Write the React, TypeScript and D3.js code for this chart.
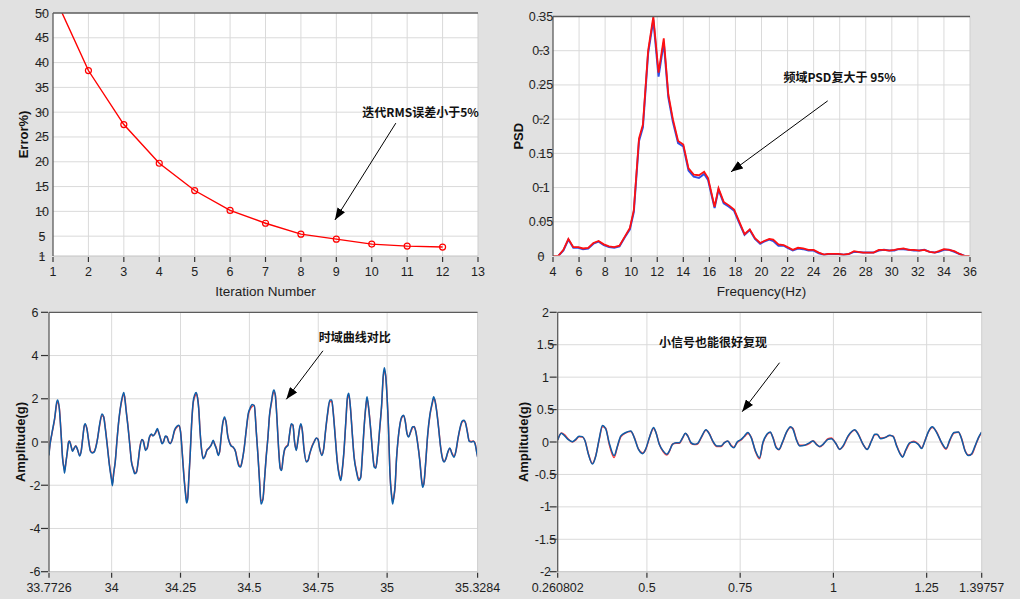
import * as d3 from 'd3';
import type { ReactNode } from 'react';

// ---- iteration error (top left)
const iterations = [1, 2, 3, 4, 5, 6, 7, 8, 9, 10, 11, 12];
const rmsError = [54, 38.4, 27.5, 19.7, 14.2, 10.2, 7.6, 5.4, 4.4, 3.4, 3.0, 2.8];
const iterTicks = [1, 2, 3, 4, 5, 6, 7, 8, 9, 10, 11, 12, 13];
const errorTicks = [50, 45, 40, 35, 30, 25, 20, 15, 10, 5, 1];

// ---- PSD (top right)
const freqHz = [
  4.0, 4.4, 4.8, 5.18, 5.56, 5.95, 6.3, 6.7, 7.1, 7.5,
  7.9, 8.3, 8.7, 9.1, 9.5, 9.9, 10.2, 10.6, 10.9, 11.3,
  11.7, 12.1, 12.5, 12.85, 13.2, 13.6, 14.0, 14.4, 14.8, 15.2,
  15.6, 15.9, 16.4, 16.7, 17.1, 17.5, 17.9, 18.3, 18.7, 19.1,
  19.5, 19.9, 20.2, 20.6, 20.9, 21.3, 21.7, 22.0, 22.4, 22.8,
  23.2, 23.6, 24.0, 24.4, 24.8, 25.1, 25.5, 25.9, 26.3, 26.7,
  27.1, 27.4, 27.8, 28.2, 28.6, 29.0, 29.4, 29.8, 30.2, 30.5,
  30.9, 31.3, 31.7, 32.1, 32.5, 32.9, 33.3, 33.6, 34.0, 34.4,
  34.8, 35.2, 35.6, 36.0,
];
const psdRed = [
  0, 0, 0.009, 0.025, 0.013, 0.013, 0.011, 0.012, 0.019, 0.022,
  0.017, 0.014, 0.013, 0.015, 0.028, 0.041, 0.067, 0.172, 0.192, 0.30,
  0.35, 0.268, 0.318, 0.236, 0.20, 0.168, 0.163, 0.128, 0.119, 0.118,
  0.123, 0.114, 0.072, 0.099, 0.079, 0.074, 0.068, 0.05, 0.032, 0.039,
  0.026, 0.019, 0.022, 0.025, 0.024, 0.017, 0.016, 0.013, 0.009, 0.012,
  0.011, 0.009, 0.009, 0.005, 0.002, 0.003, 0.003, 0.003, 0.002, 0.003,
  0.007, 0.006, 0.005, 0.005, 0.005, 0.009, 0.009, 0.008, 0.009, 0.010,
  0.011, 0.009, 0.009, 0.008, 0.009, 0.006, 0.005, 0.007, 0.010, 0.009,
  0.007, 0.003, 0, 0,
];
const psdBlue = [
  0, 0, 0.008, 0.024, 0.012, 0.012, 0.010, 0.011, 0.018, 0.021,
  0.016, 0.013, 0.012, 0.014, 0.027, 0.039, 0.064, 0.168, 0.188, 0.296,
  0.345, 0.262, 0.312, 0.232, 0.196, 0.165, 0.160, 0.125, 0.116, 0.114,
  0.120, 0.111, 0.070, 0.097, 0.077, 0.072, 0.066, 0.048, 0.031, 0.038,
  0.025, 0.018, 0.021, 0.024, 0.022, 0.015, 0.015, 0.012, 0.008, 0.011,
  0.010, 0.008, 0.008, 0.004, 0.002, 0.003, 0.003, 0.003, 0.002, 0.003,
  0.006, 0.006, 0.005, 0.005, 0.005, 0.008, 0.009, 0.008, 0.008, 0.010,
  0.010, 0.009, 0.008, 0.008, 0.009, 0.006, 0.005, 0.006, 0.009, 0.009,
  0.006, 0.003, 0, 0,
];
const freqTicks = [4, 6, 8, 10, 12, 14, 16, 18, 20, 22, 24, 26, 28, 30, 32, 34, 36];
const psdTicks = [0.35, 0.3, 0.25, 0.2, 0.15, 0.1, 0.05, 0];

// ---- time history comparison (bottom left)
const timeA = [
  33.7726, 33.774, 33.783, 33.793, 33.801, 33.804, 33.810, 33.816, 33.822, 33.827,
  33.829, 33.834, 33.839, 33.844, 33.847, 33.852, 33.858, 33.864, 33.870, 33.876,
  33.884, 33.890, 33.895, 33.901, 33.904, 33.910, 33.917, 33.923, 33.929, 33.936,
  33.943, 33.949, 33.956, 33.965, 33.971, 33.977, 33.984, 33.992, 33.999, 34.003,
  34.007, 34.013, 34.020, 34.026, 34.035, 34.044, 34.047, 34.053, 34.060, 34.066,
  34.072, 34.078, 34.084, 34.090, 34.096, 34.102, 34.110, 34.115, 34.123, 34.129,
  34.137, 34.144, 34.150, 34.159, 34.166, 34.171, 34.177, 34.183, 34.189, 34.195,
  34.201, 34.207, 34.213, 34.220, 34.228, 34.238, 34.244, 34.250, 34.256, 34.262,
  34.268, 34.272, 34.276, 34.280, 34.285, 34.290, 34.296, 34.302, 34.307, 34.312,
  34.316, 34.321, 34.326, 34.332, 34.338, 34.346, 34.353, 34.361, 34.369, 34.373,
  34.380, 34.387, 34.392, 34.398, 34.404, 34.410, 34.415, 34.421, 34.427, 34.434,
  34.441, 34.450, 34.456, 34.462, 34.468, 34.474, 34.481, 34.489, 34.496, 34.502,
  34.510, 34.518, 34.525, 34.531, 34.537, 34.542, 34.549, 34.555, 34.561, 34.567,
  34.573, 34.580, 34.586, 34.589, 34.594, 34.600, 34.606, 34.612, 34.617, 34.622,
  34.628, 34.634, 34.640, 34.646, 34.652, 34.658, 34.664, 34.670, 34.677, 34.683,
  34.687, 34.692, 34.698, 34.707, 34.713, 34.719, 34.727, 34.735, 34.743, 34.749,
  34.755, 34.763, 34.770, 34.776, 34.783, 34.792, 34.799, 34.804, 34.812, 34.819,
  34.826, 34.832, 34.836, 34.843, 34.850, 34.856, 34.861, 34.867, 34.873, 34.880,
  34.889, 34.897, 34.904, 34.910, 34.916, 34.923, 34.927, 34.933, 34.940, 34.947,
  34.953, 34.959, 34.965, 34.973, 34.980, 34.986, 34.990, 34.995, 35.000, 35.005,
  35.010, 35.016, 35.020, 35.024, 35.029, 35.034, 35.040, 35.046, 35.053, 35.060,
  35.066, 35.072, 35.078, 35.085, 35.092, 35.098, 35.104, 35.110, 35.119, 35.125,
  35.129, 35.133, 35.140, 35.147, 35.155, 35.163, 35.169, 35.173, 35.180, 35.187,
  35.194, 35.201, 35.207, 35.213, 35.220, 35.228, 35.235, 35.243, 35.250, 35.257,
  35.264, 35.272, 35.279, 35.285, 35.291, 35.298, 35.306, 35.313, 35.319, 35.325,
  35.3284,
];
const ampBlueA = [
  -0.62, -0.39, 0.39, 1.09, 1.86, 1.94, 1.55, 0.47, -0.78, -1.24,
  -1.44, -0.93, -0.47, 0, 0.03, -0.16, -0.43, -0.28, -0.19, -0.34,
  -0.65, -0.39, 0.16, 0.78, 0.85, 0.62, 0, -0.43, -0.51, -0.47,
  -0.23, 0.16, 0.78, 1.29, 1.16, 0.62, -0.16, -1.09, -1.71, -2.02,
  -1.47, -0.93, 0.16, 1.01, 1.86, 2.29, 2.09, 1.40, 0.62, -0.16,
  -0.93, -1.24, -1.47, -1.40, -0.93, -0.31, 0.12, 0.03, -0.39, -0.28,
  0.23, 0.37, 0.28, 0.43, 0.62, 0.43, 0.16, -0.08, 0.03, 0.28,
  0.23, 0, -0.08, 0.12, 0.54, 0.74, 0.78, 0.47, -0.47, -1.55,
  -2.40, -2.82, -2.64, -1.71, -0.62, 0.78, 1.86, 2.20, 2.29, 2.02,
  1.55, 0.47, -0.31, -0.78, -0.67, -0.39, -0.28, -0.16, 0.08, -0.08,
  -0.31, -0.62, -0.43, 0.31, 0.93, 1.16, 0.93, 0.31, 0, -0.19,
  -0.23, -0.47, -0.85, -1.12, -1.16, -0.85, -0.31, 0.62, 1.32, 1.55,
  1.74, 1.67, 0.47, -0.62, -1.86, -2.87, -2.64, -1.71, -0.70, 0.16,
  1.24, 1.86, 2.33, 2.40, 2.17, 1.09, -0.31, -1.24, -1.32, -0.78,
  -0.34, -0.23, -0.16, 0.39, 0.85, 0.78, 0, -0.39, 0.16, 0.70,
  0.85, 0.54, -0.31, -0.93, -0.85, -0.54, -0.23, 0, 0.19, 0.12,
  -0.31, -0.62, -0.28, 0.47, 1.24, 1.94, 1.94, 1.40, 0.16, -0.93,
  -1.55, -1.78, -1.40, -0.47, 0.93, 2.09, 2.25, 1.55, 0.47, -0.70,
  -1.40, -1.78, -1.63, -0.62, 0.62, 1.71, 2.09, 1.55, 0.62, -0.47,
  -1.16, -1.21, -0.62, 0.62, 1.71, 3.10, 3.44, 3.02, 2.02, 0.62,
  -1.40, -2.48, -2.87, -2.56, -2.02, -0.78, 0.16, 0.78, 1.16, 1.24,
  0.93, 0.39, 0.23, 0.47, 0.70, 0.70, 0.47, 0, -0.93, -1.78,
  -2.09, -1.94, -0.93, 0.31, 1.24, 1.78, 2.09, 1.94, 1.40, 0.62,
  -0.23, -0.78, -0.93, -0.78, -0.47, -0.28, -0.54, -0.70, -0.39, 0.16,
  0.62, 0.96, 1.01, 0.85, 0.47, 0.03, 0, 0.03, -0.08, -0.47,
  -0.70,
];
const ampRedA = [
  -0.58, -0.36, 0.36, 1.05, 1.78, 1.84, 1.58, 0.50, -0.72, -1.20,
  -1.30, -0.96, -0.45, 0.02, 0.05, -0.14, -0.40, -0.30, -0.17, -0.36,
  -0.60, -0.36, 0.18, 0.74, 0.80, 0.64, 0.03, -0.40, -0.48, -0.45,
  -0.20, 0.18, 0.74, 1.22, 1.18, 0.66, -0.12, -1.04, -1.62, -1.90,
  -1.52, -0.90, 0.18, 0.98, 1.80, 2.18, 2.12, 1.44, 0.66, -0.12,
  -0.90, -1.20, -1.40, -1.42, -0.96, -0.28, 0.10, 0.05, -0.34, -0.30,
  0.20, 0.34, 0.30, 0.40, 0.58, 0.45, 0.18, -0.05, 0.05, 0.24,
  0.25, 0.02, -0.05, 0.10, 0.50, 0.70, 0.75, 0.50, -0.42, -1.48,
  -2.30, -2.66, -2.68, -1.76, -0.58, 0.74, 1.80, 2.10, 2.22, 2.05,
  1.58, 0.50, -0.28, -0.72, -0.70, -0.36, -0.30, -0.14, 0.05, -0.05,
  -0.28, -0.56, -0.46, 0.28, 0.90, 1.08, 0.96, 0.34, 0.02, -0.17,
  -0.25, -0.44, -0.80, -1.06, -1.12, -0.88, -0.28, 0.58, 1.26, 1.50,
  1.64, 1.70, 0.50, -0.58, -1.78, -2.72, -2.68, -1.74, -0.66, 0.18,
  1.20, 1.80, 2.24, 2.30, 2.20, 1.12, -0.28, -1.18, -1.30, -0.80,
  -0.36, -0.20, -0.13, 0.36, 0.80, 0.80, 0.03, -0.36, 0.14, 0.66,
  0.80, 0.56, -0.28, -0.88, -0.86, -0.56, -0.20, 0.02, 0.17, 0.14,
  -0.28, -0.58, -0.30, 0.44, 1.20, 1.86, 1.88, 1.44, 0.20, -0.88,
  -1.48, -1.70, -1.44, -0.50, 0.90, 2.00, 2.16, 1.58, 0.50, -0.66,
  -1.34, -1.70, -1.66, -0.65, 0.58, 1.66, 2.00, 1.58, 0.64, -0.44,
  -1.10, -1.18, -0.64, 0.58, 1.66, 3.00, 3.30, 3.06, 2.06, 0.66,
  -1.34, -2.40, -2.74, -2.60, -2.06, -0.80, 0.14, 0.76, 1.12, 1.20,
  0.96, 0.42, 0.26, 0.44, 0.66, 0.72, 0.50, 0.03, -0.88, -1.70,
  -2.00, -1.96, -0.96, 0.28, 1.20, 1.72, 2.00, 1.96, 1.44, 0.66,
  -0.20, -0.74, -0.90, -0.80, -0.50, -0.30, -0.50, -0.66, -0.42, 0.13,
  0.58, 0.92, 0.98, 0.88, 0.50, 0.06, 0.02, 0.05, -0.05, -0.44,
  -0.66,
];
const timeATicks = [33.7726, 34, 34.25, 34.5, 34.75, 35, 35.3284];
const ampATicks = [6, 4, 2, 0, -2, -4, -6];

// ---- small signal comparison (bottom right)
const timeB = [
  0.260802, 0.2705, 0.2795, 0.2884, 0.3001, 0.3090, 0.3180, 0.3270, 0.3341, 0.3431,
  0.3539, 0.3628, 0.3718, 0.3808, 0.3897, 0.3987, 0.4121, 0.4211, 0.4300, 0.4435,
  0.4569, 0.4659, 0.4775, 0.4883, 0.4972, 0.5080, 0.5178, 0.5241, 0.5331, 0.5438,
  0.5537, 0.5599, 0.5689, 0.5779, 0.5868, 0.5958, 0.6030, 0.6092, 0.6182, 0.6272,
  0.6361, 0.6451, 0.6585, 0.6675, 0.6764, 0.6872, 0.6988, 0.7078, 0.7168, 0.7257,
  0.7329, 0.7418, 0.7526, 0.7616, 0.7705, 0.7795, 0.7911, 0.8019, 0.8109, 0.8216,
  0.8306, 0.8377, 0.8467, 0.8539, 0.8628, 0.8736, 0.8852, 0.8915, 0.9004, 0.9094,
  0.9229, 0.9363, 0.9453, 0.9542, 0.9632, 0.9722, 0.9856, 0.9946, 1.0062, 1.0170,
  1.0259, 1.0394, 1.0573, 1.0662, 1.0797, 1.0904, 1.1021, 1.1110, 1.1173, 1.1263,
  1.1379, 1.1514, 1.1603, 1.1693, 1.1783, 1.1854, 1.1944, 1.2051, 1.2159, 1.2275,
  1.2365, 1.2454, 1.2544, 1.2651, 1.2768, 1.2902, 1.3019, 1.3126, 1.3234, 1.3350,
  1.3440, 1.3530, 1.3620, 1.3709, 1.3799, 1.3889, 1.39757,
];
const ampBlueB = [
  0.03, 0.135, 0.094, 0.04, 0.005, 0.04, 0.09, 0.083, 0.016, -0.19,
  -0.34, -0.22, 0.04, 0.255, 0.20, -0.01, -0.21, -0.06, 0.094, 0.146,
  0.17, 0.068, -0.115, -0.18, -0.10, 0.094, 0.224, 0.146, -0.036, -0.14,
  -0.19, -0.14, -0.036, -0.01, -0.01, 0.068, 0.135, 0.094, -0.01, -0.036,
  -0.02, 0.068, 0.19, 0.12, 0.016, -0.06, -0.06, -0.01, 0.016, -0.06,
  -0.09, 0, 0.04, 0.094, 0.146, 0.068, -0.14, -0.245, -0.01, 0.12,
  0.156, 0.068, -0.09, -0.115, -0.01, 0.146, 0.234, 0.20, 0.04, -0.06,
  -0.05, -0.01, 0.016, -0.036, -0.07, -0.036, 0.04, 0.052, -0.02, -0.115,
  -0.06, 0.094, 0.19, 0.12, -0.036, -0.115, 0.016, 0.12, 0.12, 0.052,
  0.068, 0.104, 0.083, -0.06, -0.18, -0.234, -0.115, -0.01, 0, -0.036,
  -0.10, 0.016, 0.156, 0.234, 0.146, -0.01, -0.10, 0.04, 0.146, 0.156,
  0.04, -0.14, -0.21, -0.18, -0.06, 0.068, 0.156,
];
const ampRedB = [
  0.03, 0.14, 0.11, 0.05, 0.0, 0.03, 0.08, 0.075, 0.02, -0.18,
  -0.33, -0.21, 0.03, 0.235, 0.21, -0.03, -0.24, -0.07, 0.08, 0.14,
  0.16, 0.075, -0.11, -0.17, -0.11, 0.09, 0.21, 0.15, -0.03, -0.15,
  -0.20, -0.15, -0.03, -0.02, -0.02, 0.06, 0.13, 0.10, -0.02, -0.04,
  -0.03, 0.06, 0.18, 0.13, 0.01, -0.07, -0.07, -0.01, 0.01, -0.05,
  -0.08, -0.01, 0.03, 0.085, 0.13, 0.075, -0.15, -0.26, -0.02, 0.11,
  0.145, 0.075, -0.08, -0.12, -0.02, 0.14, 0.225, 0.21, 0.05, -0.05,
  -0.05, -0.02, 0.02, -0.03, -0.075, -0.04, 0.05, 0.06, -0.02, -0.11,
  -0.07, 0.085, 0.18, 0.13, -0.04, -0.11, 0.02, 0.11, 0.115, 0.06,
  0.07, 0.10, 0.09, -0.05, -0.17, -0.225, -0.125, -0.02, 0.01, -0.03,
  -0.09, 0.02, 0.15, 0.225, 0.155, -0.02, -0.11, 0.03, 0.14, 0.15,
  0.05, -0.13, -0.20, -0.19, -0.07, 0.06, 0.15,
];
const timeBTicks = [0.260802, 0.5, 0.75, 1, 1.25, 1.39757];
const ampBTicks = [2, 1.5, 1, 0.5, 0, -0.5, -1, -1.5, -2];

const FONT = '"Liberation Sans", Arial, sans-serif';
const CJK = '"Noto Sans CJK SC", "Noto Sans CJK JP", sans-serif';
const INK = '#1e1e1e';

type Box = { l: number; r: number; t: number; b: number };
type Scale = d3.ScaleLinear<number, number>;

interface PanelProps {
  id: string;
  box: Box;
  xDomain: [number, number];
  yDomain: [number, number];
  xTicks: number[];
  yTicks: number[];
  yLabelCx: number;
  yTickMode: 'dash' | 'side';
  xTitle?: string;
  yTitle: string;
  yTitleX: number;
  plot: (x: Scale, y: Scale) => ReactNode;
  notes?: (x: Scale, y: Scale) => ReactNode;
}

const fmt = (v: number) => String(v);

function Panel(p: PanelProps) {
  const { box } = p;
  const x = d3.scaleLinear().domain(p.xDomain).range([box.l, box.r]);
  const y = d3.scaleLinear().domain(p.yDomain).range([box.b, box.t]);
  const xGrid = p.xTicks.filter(v => v > p.xDomain[0] && v < p.xDomain[1]);
  const yGrid = p.yTicks.filter(v => v > p.yDomain[0] && v < p.yDomain[1]);
  return (
    <g>
      <defs>
        <clipPath id={`clip-${p.id}`}>
          <rect x={box.l} y={box.t} width={box.r - box.l} height={box.b - box.t} />
        </clipPath>
      </defs>
      <rect x={box.l} y={box.t} width={box.r - box.l} height={box.b - box.t} fill="#ffffff" />
      {xGrid.map(v => (
        <line key={`gx${v}`} x1={x(v)} x2={x(v)} y1={box.t} y2={box.b} stroke="#dadada" strokeWidth={1} />
      ))}
      {yGrid.map(v => (
        <line key={`gy${v}`} x1={box.l} x2={box.r} y1={y(v)} y2={y(v)} stroke="#dadada" strokeWidth={1} />
      ))}
      <g clipPath={`url(#clip-${p.id})`}>{p.plot(x, y)}</g>
      {/* frame */}
      <line x1={box.r} x2={box.r} y1={box.t} y2={box.b} stroke="#cfcfcf" />
      <line x1={box.l} x2={box.r} y1={box.b} y2={box.b} stroke="#c4c4c4" />
      <line x1={box.l} x2={box.r} y1={box.t} y2={box.t} stroke="#5c5c5c" strokeWidth={1.3} />
      <line x1={box.l} x2={box.l} y1={box.t} y2={box.b} stroke="#5c5c5c" strokeWidth={1.3} />
      {/* x ticks */}
      {p.xTicks.map(v => (
        <g key={`tx${v}`}>
          <line x1={x(v)} x2={x(v)} y1={box.b + 1} y2={box.b + 6} stroke="#333" strokeWidth={1.2} />
          <text x={x(v)} y={box.b + 20} textAnchor="middle" fontFamily={FONT} fontSize={12.5} fill={INK}>
            {fmt(v)}
          </text>
        </g>
      ))}
      {/* y ticks */}
      {p.yTicks.map(v => (
        <g key={`ty${v}`}>
          <text x={p.yLabelCx} y={y(v) + 4.5} textAnchor="middle" fontFamily={FONT} fontSize={12.5} fill={INK}>
            {fmt(v)}
          </text>
          {p.yTickMode === 'dash' ? (
            <line x1={p.yLabelCx - 2.5} x2={p.yLabelCx + 2.5} y1={y(v)} y2={y(v)} stroke="#333" strokeWidth={1} />
          ) : (
            <line x1={box.l - 8} x2={box.l - 1} y1={y(v)} y2={y(v)} stroke="#333" strokeWidth={1.2} />
          )}
        </g>
      ))}
      {p.xTitle && (
        <text x={(box.l + box.r) / 2} y={box.b + 40} textAnchor="middle" fontFamily={FONT} fontSize={13.5} fill={INK}>
          {p.xTitle}
        </text>
      )}
      <text
        transform={`translate(${p.yTitleX},${(box.t + box.b) / 2}) rotate(-90)`}
        textAnchor="middle"
        dy="0.35em"
        fontFamily={FONT}
        fontWeight="bold"
        fontSize={13}
        fill="#111"
      >
        {p.yTitle}
      </text>
      {p.notes && p.notes(x, y)}
    </g>
  );
}

function Note({ x, y, text }: { x: number; y: number; text: string }) {
  return (
    <text x={x} y={y} dy="0.36em" textAnchor="middle" fontFamily={CJK} fontWeight="bold" fontSize={12} fill="#111">
      {text}
    </text>
  );
}

function Arrow({ x1, y1, x2, y2 }: { x1: number; y1: number; x2: number; y2: number }) {
  return <line x1={x1} y1={y1} x2={x2} y2={y2} stroke="#000" strokeWidth={1} markerEnd="url(#arrowHead)" />;
}

function seriesLine(xs: number[], ys: number[], x: Scale, y: Scale, curve: d3.CurveFactory) {
  const n = Math.min(xs.length, ys.length);
  return d3
    .line<number>()
    .x(i => x(xs[i]))
    .y(i => y(ys[i]))
    .curve(curve)(d3.range(n)) ?? '';
}

export default function App() {
  return (
    <div style={{ position: 'absolute', left: 0, top: 0 }}>
      <svg width={1020} height={599} style={{ display: 'block' }}>
        <defs>
          <marker id="arrowHead" markerUnits="userSpaceOnUse" markerWidth={13} markerHeight={9} refX={12} refY={4.5} orient="auto">
            <path d="M0,0 L12,4.5 L0,9 Z" fill="#000" />
          </marker>
        </defs>
        <rect x={0} y={0} width={1020} height={599} fill="#e1e1e1" />

        <Panel
          id="err"
          box={{ l: 53, r: 478, t: 13, b: 256 }}
          xDomain={[1, 13]}
          yDomain={[1, 50]}
          xTicks={iterTicks}
          yTicks={errorTicks}
          yLabelCx={42}
          yTickMode="dash"
          xTitle="Iteration Number"
          yTitle="Error%)"
          yTitleX={23}
          plot={(x, y) => (
            <g>
              <path d={seriesLine(iterations, rmsError, x, y, d3.curveLinear)} fill="none" stroke="#ff0000" strokeWidth={1.4} />
              {rmsError.map((v, i) => (
                <circle key={i} cx={x(iterations[i])} cy={y(v)} r={3} fill="none" stroke="#ff0000" strokeWidth={1.2} />
              ))}
            </g>
          )}
          notes={(x, y) => (
            <g>
              <Note x={x(11.38)} y={y(30)} text="迭代RMS误差小于5%" />
              <Arrow x1={x(10.68)} y1={y(27.8)} x2={x(8.96)} y2={y(8.26)} />
            </g>
          )}
        />

        <Panel
          id="psd"
          box={{ l: 553, r: 970, t: 16.5, b: 256 }}
          xDomain={[4, 36]}
          yDomain={[0, 0.35]}
          xTicks={freqTicks}
          yTicks={psdTicks}
          yLabelCx={541}
          yTickMode="dash"
          xTitle="Frequency(Hz)"
          yTitle="PSD"
          yTitleX={518}
          plot={(x, y) => (
            <g>
              <path d={seriesLine(freqHz, psdBlue, x, y, d3.curveLinear)} fill="none" stroke="#2f4fe6" strokeWidth={2} />
              <path d={seriesLine(freqHz, psdRed, x, y, d3.curveLinear)} fill="none" stroke="#ff1010" strokeWidth={1.8} />
            </g>
          )}
          notes={(x, y) => (
            <g>
              <Note x={x(26.0)} y={y(0.261)} text="频域PSD复大于 95%" />
              <Arrow x1={x(25.08)} y1={y(0.2267)} x2={x(17.66)} y2={y(0.123)} />
            </g>
          )}
        />

        <Panel
          id="ampA"
          box={{ l: 49, r: 477.6, t: 312.3, b: 571.7 }}
          xDomain={[33.7726, 35.3284]}
          yDomain={[-6, 6]}
          xTicks={timeATicks}
          yTicks={ampATicks}
          yLabelCx={35}
          yTickMode="side"
          yTitle="Amplitude(g)"
          yTitleX={20}
          plot={(x, y) => (
            <g>
              <path d={seriesLine(timeA, ampRedA, x, y, d3.curveMonotoneX)} fill="none" stroke="#ff3b3b" strokeWidth={1.5} />
              <path d={seriesLine(timeA, ampBlueA, x, y, d3.curveMonotoneX)} fill="none" stroke="#0d5ea8" strokeWidth={1.5} />
            </g>
          )}
          notes={(x, y) => (
            <g>
              <Note x={x(34.8825)} y={y(4.84)} text="时域曲线对比" />
              <Arrow x1={x(34.767)} y1={y(4.22)} x2={x(34.634)} y2={y(1.975)} />
            </g>
          )}
        />

        <Panel
          id="ampB"
          box={{ l: 557.7, r: 981.7, t: 312.3, b: 571.7 }}
          xDomain={[0.260802, 1.39757]}
          yDomain={[-2, 2]}
          xTicks={timeBTicks}
          yTicks={ampBTicks}
          yLabelCx={545.5}
          yTickMode="side"
          yTitle="Amplitude(g)"
          yTitleX={523}
          plot={(x, y) => (
            <g>
              <path d={seriesLine(timeB, ampRedB, x, y, d3.curveMonotoneX)} fill="none" stroke="#ff3b3b" strokeWidth={1.5} />
              <path d={seriesLine(timeB, ampBlueB, x, y, d3.curveMonotoneX)} fill="none" stroke="#0d5ea8" strokeWidth={1.5} />
            </g>
          )}
          notes={(x, y) => (
            <g>
              <Note x={x(0.6769)} y={y(1.537)} text="小信号也能很好复现" />
              <Arrow x1={x(0.8556)} y1={y(1.223)} x2={x(0.7554)} y2={y(0.467)} />
            </g>
          )}
        />
      </svg>
    </div>
  );
}
